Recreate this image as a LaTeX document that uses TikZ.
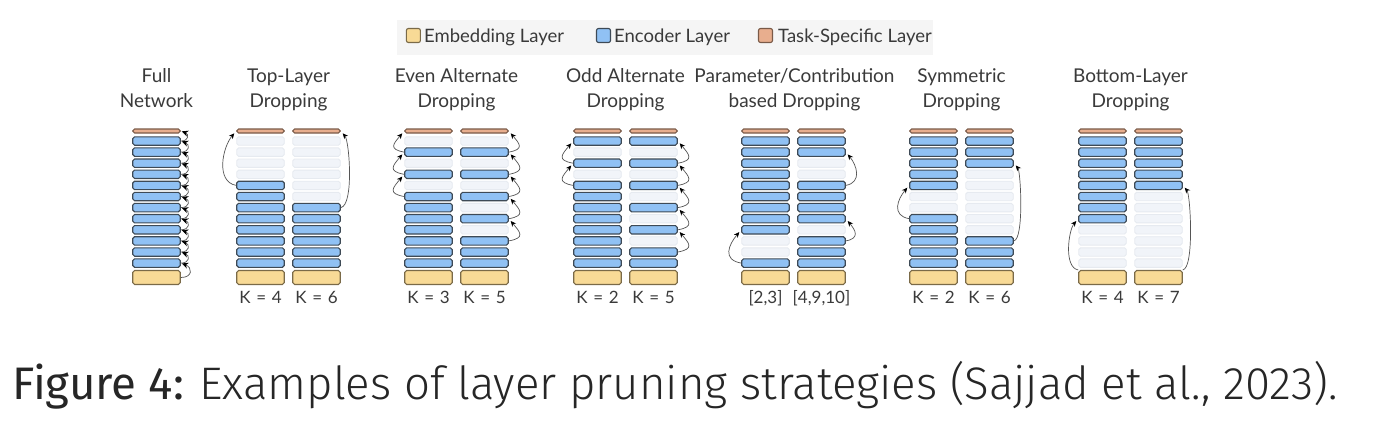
\documentclass[tikz,border=0pt]{standalone}
\usepackage{fontspec}
\setmainfont{Lato}
\IfFontExistsTF{Fira Sans Light}{\newfontfamily\capfont{Fira Sans Light}}{\newfontfamily\capfont{Fira Sans}}
\newfontfamily\capbold{Fira Sans}
\usetikzlibrary{arrows.meta}

\definecolor{encblue}{HTML}{90C1F4}
\definecolor{encline}{HTML}{3E4A56}
\definecolor{embyellow}{HTML}{F8DA96}
\definecolor{embline}{HTML}{7A6A48}
\definecolor{taskorange}{HTML}{E8AE8E}
\definecolor{taskline}{HTML}{7A5A48}
\definecolor{gonefill}{HTML}{F1F4F9}
\definecolor{goneline}{HTML}{E6EAF0}
\definecolor{legendbg}{HTML}{F5F5F5}
\definecolor{inktext}{HTML}{3A3A3A}
\definecolor{hopline}{HTML}{555555}

\newcommand{\kgap}{\hspace{0.33em}}

\tikzset{
  slab/.style={draw, rounded corners=1.8pt, line width=1.1pt, minimum width=47.5pt, inner sep=0pt},
  enc/.style={slab, fill=encblue, draw=encline, minimum height=8.4pt},
  gone/.style={slab, fill=gonefill, draw=goneline, line width=0.9pt, minimum height=8.4pt},
  emb/.style={slab, fill=embyellow, draw=embline, minimum height=14pt},
  task/.style={slab, fill=taskorange, draw=taskline, minimum height=4pt},
  swatch/.style={draw, rounded corners=2pt, line width=1.1pt, minimum size=14pt, inner sep=0pt},
  legtext/.style={anchor=base west, font=\fontsize{18.5}{22}\selectfont, text=inktext, inner sep=0pt},
  headline/.style={anchor=base, font=\fontsize{19}{23}\selectfont, text=inktext, inner sep=0pt},
  klabel/.style={anchor=base, font=\fontsize{17}{20}\selectfont, text=inktext, inner sep=0pt},
  hop/.style={-{Stealth[length=5.5pt,width=5pt,black]}, draw=hopline, line width=0.7pt, shorten >=3pt},
  upleft/.style={hop, out=170, in=230},
  upright/.style={hop, out=10, in=-50},
  fullhop/.style={hop, -{Stealth[length=6.5pt,width=6pt,black]}, shorten >=1pt, out=0, in=-20, looseness=2.2},
}

\begin{document}
\begin{tikzpicture}[x=1pt,y=1pt]
    \useasboundingbox (0,0) rectangle (1374,-424);
    \fill[white] (0,0) rectangle (1374,-424);

    % legend
    \fill[legendbg] (397,-20) rectangle (933,-55);
    \node[swatch, fill=embyellow, draw=embline] (key-emb) at (413.4,-35.5) {};
    \node[legtext] (txt-emb) at (424,-42) {Embedding Layer};
    \node[swatch, fill=encblue, draw=encline] (key-enc) at (603.5,-35.5) {};
    \node[legtext] (txt-enc) at (614,-42) {Encoder Layer};
    \node[swatch, fill=taskorange, draw=taskline] (key-task) at (765.5,-35.5) {};
    \node[legtext] (txt-task) at (778,-42) {Task-Specific Layer};

    % titles
    \node[headline] (full-a) at (156.5,-82) {Full};
    \node[headline] (full-b) at (156.5,-107.7) {Network};
    \node[headline] (tl-a) at (288.5,-82) {Top-Layer};
    \node[headline] (tl-b) at (288.5,-107.7) {Dropping};
    \node[headline] (ea-a) at (456.5,-82) {Even Alternate};
    \node[headline] (ea-b) at (456.5,-107.7) {Dropping};
    \node[headline] (oa-a) at (625.5,-82) {Odd Alternate};
    \node[headline] (oa-b) at (625.5,-107.7) {Dropping};
    \node[headline] (pc-a) at (794.5,-82) {Parameter/Contribution};
    \node[headline] (pc-b) at (794.5,-107.7) {based Dropping};
    \node[headline] (sy-a) at (961.5,-82) {Symmetric};
    \node[headline] (sy-b) at (961.5,-107.7) {Dropping};
    \node[headline] (bl-a) at (1130.5,-82) {Bottom-Layer};
    \node[headline] (bl-b) at (1130.5,-107.7) {Dropping};

    % full network
    \node[task] (full-task) at (156.5,-131) {};
    \foreach \r in {1,...,12} \node[enc] (full-\r) at (156.5,{-141-11.1*(\r-1)}) {};
    \node[emb] (full-emb) at (156.5,-277.5) {};

    % top-layer dropping
    \node[task] (tl1-task) at (260.5,-131) {};
    \foreach \r in {5,...,12} \node[enc] (tl1-\r) at (260.5,{-141-11.1*(\r-1)}) {};
    \foreach \r in {1,...,4} \node[gone] (tl1-\r) at (260.5,{-141-11.1*(\r-1)}) {};
    \node[emb] (tl1-emb) at (260.5,-277.5) {};
    \node[task] (tl2-task) at (316.5,-131) {};
    \foreach \r in {7,...,12} \node[enc] (tl2-\r) at (316.5,{-141-11.1*(\r-1)}) {};
    \foreach \r in {1,...,6} \node[gone] (tl2-\r) at (316.5,{-141-11.1*(\r-1)}) {};
    \node[emb] (tl2-emb) at (316.5,-277.5) {};

    % even alternate dropping
    \node[task] (ea1-task) at (428.5,-131) {};
    \foreach \r in {2,4,6,7,8,9,10,11,12} \node[enc] (ea1-\r) at (428.5,{-141-11.1*(\r-1)}) {};
    \foreach \r in {1,3,5} \node[gone] (ea1-\r) at (428.5,{-141-11.1*(\r-1)}) {};
    \node[emb] (ea1-emb) at (428.5,-277.5) {};
    \node[task] (ea2-task) at (484.5,-131) {};
    \foreach \r in {2,4,6,8,10,11,12} \node[enc] (ea2-\r) at (484.5,{-141-11.1*(\r-1)}) {};
    \foreach \r in {1,3,5,7,9} \node[gone] (ea2-\r) at (484.5,{-141-11.1*(\r-1)}) {};
    \node[emb] (ea2-emb) at (484.5,-277.5) {};

    % odd alternate dropping
    \node[task] (oa1-task) at (597.5,-131) {};
    \foreach \r in {1,3,5,6,7,8,9,10,11,12} \node[enc] (oa1-\r) at (597.5,{-141-11.1*(\r-1)}) {};
    \foreach \r in {2,4} \node[gone] (oa1-\r) at (597.5,{-141-11.1*(\r-1)}) {};
    \node[emb] (oa1-emb) at (597.5,-277.5) {};
    \node[task] (oa2-task) at (653.5,-131) {};
    \foreach \r in {1,3,5,7,9,11,12} \node[enc] (oa2-\r) at (653.5,{-141-11.1*(\r-1)}) {};
    \foreach \r in {2,4,6,8,10} \node[gone] (oa2-\r) at (653.5,{-141-11.1*(\r-1)}) {};
    \node[emb] (oa2-emb) at (653.5,-277.5) {};

    % parameter/contribution based dropping
    \node[task] (pc1-task) at (765.5,-131) {};
    \foreach \r in {1,...,9,12} \node[enc] (pc1-\r) at (765.5,{-141-11.1*(\r-1)}) {};
    \foreach \r in {10,11} \node[gone] (pc1-\r) at (765.5,{-141-11.1*(\r-1)}) {};
    \node[emb] (pc1-emb) at (765.5,-277.5) {};
    \node[task] (pc2-task) at (821.5,-131) {};
    \foreach \r in {1,2,5,6,7,8,10,11,12} \node[enc] (pc2-\r) at (821.5,{-141-11.1*(\r-1)}) {};
    \foreach \r in {3,4,9} \node[gone] (pc2-\r) at (821.5,{-141-11.1*(\r-1)}) {};
    \node[emb] (pc2-emb) at (821.5,-277.5) {};

    % symmetric dropping
    \node[task] (sy1-task) at (933.5,-131) {};
    \foreach \r in {1,...,5,8,9,10,11,12} \node[enc] (sy1-\r) at (933.5,{-141-11.1*(\r-1)}) {};
    \foreach \r in {6,7} \node[gone] (sy1-\r) at (933.5,{-141-11.1*(\r-1)}) {};
    \node[emb] (sy1-emb) at (933.5,-277.5) {};
    \node[task] (sy2-task) at (989.5,-131) {};
    \foreach \r in {1,2,3,10,11,12} \node[enc] (sy2-\r) at (989.5,{-141-11.1*(\r-1)}) {};
    \foreach \r in {4,...,9} \node[gone] (sy2-\r) at (989.5,{-141-11.1*(\r-1)}) {};
    \node[emb] (sy2-emb) at (989.5,-277.5) {};

    % bottom-layer dropping
    \node[task] (bl1-task) at (1102.5,-131) {};
    \foreach \r in {1,...,8} \node[enc] (bl1-\r) at (1102.5,{-141-11.1*(\r-1)}) {};
    \foreach \r in {9,...,12} \node[gone] (bl1-\r) at (1102.5,{-141-11.1*(\r-1)}) {};
    \node[emb] (bl1-emb) at (1102.5,-277.5) {};
    \node[task] (bl2-task) at (1158.5,-131) {};
    \foreach \r in {1,...,5} \node[enc] (bl2-\r) at (1158.5,{-141-11.1*(\r-1)}) {};
    \foreach \r in {6,...,12} \node[gone] (bl2-\r) at (1158.5,{-141-11.1*(\r-1)}) {};
    \node[emb] (bl2-emb) at (1158.5,-277.5) {};

    % skip connections
    \draw[fullhop] (full-emb.east) to (full-12.east);
    \foreach \r [count=\s from 2] in {1,...,11}
        \draw[fullhop] (full-\s.east) to (full-\r.east);
    \draw[fullhop] (full-1.east) to (full-task.east);

    \draw[upleft, looseness=1] (tl1-5.west) to (tl1-task.west);
    \draw[upright, looseness=0.45] (tl2-7.east) to (tl2-task.east);

    \draw[upleft, looseness=2] (ea1-2.west) to (ea1-task.west);
    \draw[upleft, looseness=2] (ea1-4.west) to (ea1-2.west);
    \draw[upleft, looseness=2] (ea1-6.west) to (ea1-4.west);
    \draw[upright, looseness=2] (ea2-2.east) to (ea2-task.east);
    \draw[upright, looseness=2] (ea2-4.east) to (ea2-2.east);
    \draw[upright, looseness=2] (ea2-6.east) to (ea2-4.east);
    \draw[upright, looseness=2] (ea2-8.east) to (ea2-6.east);
    \draw[upright, looseness=2] (ea2-10.east) to (ea2-8.east);

    \draw[upleft, looseness=2] (oa1-3.west) to (oa1-1.west);
    \draw[upleft, looseness=2] (oa1-5.west) to (oa1-3.west);
    \draw[upright, looseness=2] (oa2-3.east) to (oa2-1.east);
    \draw[upright, looseness=2] (oa2-5.east) to (oa2-3.east);
    \draw[upright, looseness=2] (oa2-7.east) to (oa2-5.east);
    \draw[upright, looseness=2] (oa2-9.east) to (oa2-7.east);
    \draw[upright, looseness=2] (oa2-11.east) to (oa2-9.east);

    \draw[upleft, looseness=1.5] (pc1-12.west) to (pc1-9.west);
    \draw[upright, looseness=1.7] (pc2-10.east) to (pc2-8.east);
    \draw[upright, looseness=1.3] (pc2-5.east) to (pc2-2.east);

    \draw[upleft, looseness=1.4] (sy1-8.west) to (sy1-5.west);
    \draw[upright, looseness=0.35] (sy2-10.east) to (sy2-3.east);

    \draw[upleft, looseness=0.75] (bl1-emb.north west) to (bl1-8.west);
    \draw[upright, looseness=0.36] (bl2-emb.north east) to (bl2-5.east);

    % K labels
    \node[klabel] (k-tl1) at (260.5,-303.5) {K\kgap=\kgap4};
    \node[klabel] (k-tl2) at (316.5,-303.5) {K\kgap=\kgap6};
    \node[klabel] (k-ea1) at (428.5,-303.5) {K\kgap=\kgap3};
    \node[klabel] (k-ea2) at (484.5,-303.5) {K\kgap=\kgap5};
    \node[klabel] (k-oa1) at (597.5,-303.5) {K\kgap=\kgap2};
    \node[klabel] (k-oa2) at (653.5,-303.5) {K\kgap=\kgap5};
    \node[klabel] (k-pc1) at (765.5,-303.5) {[2,3]};
    \node[klabel] (k-pc2) at (821.5,-303.5) {[4,9,10]};
    \node[klabel] (k-sy1) at (933.5,-303.5) {K\kgap=\kgap2};
    \node[klabel] (k-sy2) at (989.5,-303.5) {K\kgap=\kgap6};
    \node[klabel] (k-bl1) at (1102.5,-303.5) {K\kgap=\kgap4};
    \node[klabel] (k-bl2) at (1158.5,-303.5) {K\kgap=\kgap7};

    % caption
    \node[anchor=base west, inner sep=0pt, text=black!85, font=\fontsize{45.6}{52}\selectfont] (caption) at (12,-399)
        {{\capbold Figure 4:} \capfont Examples of layer pruning strategies (Sajjad et al., 2023).};
\end{tikzpicture}
\end{document}
